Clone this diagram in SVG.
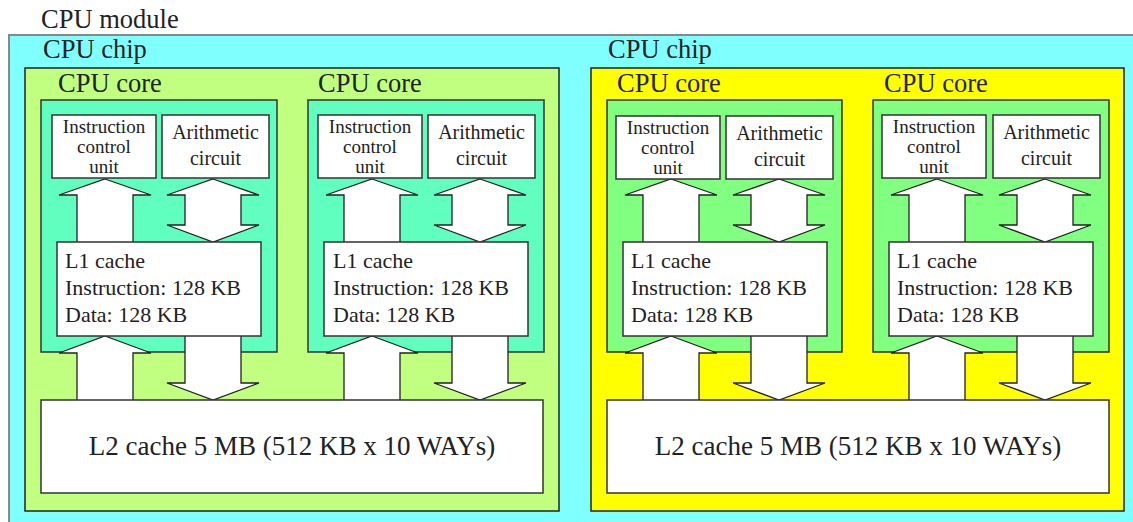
<svg xmlns="http://www.w3.org/2000/svg" width="1133" height="522" viewBox="0 0 1133 522" font-family="Liberation Serif, DejaVu Serif, serif">
<defs>
<style>
.t{font-family:"Liberation Serif","DejaVu Serif",serif;fill:#222}
.lbl{font-size:26.5px}
.icu{font-size:19px;text-anchor:middle}
.ar{font-size:20px;text-anchor:middle}
.l1t{font-size:22px}
.l2t{font-size:27px;text-anchor:middle}
.box{fill:#fff;stroke:#333;stroke-width:1.5}
.chip{stroke:#222;stroke-width:1.5}
.core{stroke:#333;stroke-width:1.5}
.arrow{fill:#fff;stroke:#222;stroke-width:1.3;stroke-linejoin:miter}
</style>
</defs>
<rect width="1133" height="522" fill="#fff"/>
<g id="module">
<rect x="9" y="35" width="1140" height="500" fill="#80FFFF" stroke="#888" stroke-width="2"/>
<text class="t lbl" x="41" y="28">CPU module</text>
</g>
<g id="chip1">
<rect class="chip" x="25" y="68" width="534" height="443" fill="#C0FF80"/>
<text class="t lbl" x="43" y="58">CPU chip</text>
</g>
<g id="chip2">
<rect class="chip" x="591" y="68" width="533" height="443" fill="#FFFF00"/>
<text class="t lbl" x="608" y="58">CPU chip</text>
</g>
<g id="core1"><rect class="core" x="41" y="100" width="236" height="252" fill="#60FFC0"/><text class="t lbl" x="58" y="92">CPU core</text></g>
<g id="core2"><rect class="core" x="308" y="100" width="236" height="252" fill="#60FFC0"/><text class="t lbl" x="318" y="92">CPU core</text></g>
<g id="core3"><rect class="core" x="607" y="100" width="235" height="252" fill="#80FF80"/><text class="t lbl" x="617" y="92">CPU core</text></g>
<g id="core4"><rect class="core" x="873" y="100" width="236" height="252" fill="#80FF80"/><text class="t lbl" x="884" y="92">CPU core</text></g>
<g id="connectors">
<polygon class="arrow" points="105,179 151,195 133,195 133,243 77,243 77,195 59,195"/>
<polygon class="arrow" points="213,179 259,195 241,195 241,225 259,225 213,242 167,225 185,225 185,195 167,195"/>
<polygon class="arrow" points="105,336 151,353 133,353 133,401 77,401 77,353 59,353"/>
<polygon class="arrow" points="241,335 241,383 259,383 213,400 167,383 185,383 185,335"/>
<polygon class="arrow" points="372,179 418,195 400,195 400,243 344,243 344,195 326,195"/>
<polygon class="arrow" points="480,179 526,195 508,195 508,225 526,225 480,242 434,225 452,225 452,195 434,195"/>
<polygon class="arrow" points="372,336 418,353 400,353 400,401 344,401 344,353 326,353"/>
<polygon class="arrow" points="508,335 508,383 526,383 480,400 434,383 452,383 452,335"/>
<polygon class="arrow" points="671,179 717,195 699,195 699,243 643,243 643,195 625,195"/>
<polygon class="arrow" points="779,179 825,195 807,195 807,225 825,225 779,242 733,225 751,225 751,195 733,195"/>
<polygon class="arrow" points="671,336 717,353 699,353 699,401 643,401 643,353 625,353"/>
<polygon class="arrow" points="807,335 807,383 825,383 779,400 733,383 751,383 751,335"/>
<polygon class="arrow" points="937,179 983,195 965,195 965,243 909,243 909,195 891,195"/>
<polygon class="arrow" points="1045,179 1091,195 1073,195 1073,225 1091,225 1045,242 999,225 1017,225 1017,195 999,195"/>
<polygon class="arrow" points="937,336 983,353 965,353 965,401 909,401 909,353 891,353"/>
<polygon class="arrow" points="1073,335 1073,383 1091,383 1045,400 999,383 1017,383 1017,335"/>
</g>
<g id="icu1"><rect class="box" x="52" y="115" width="104" height="63"/><text class="t icu" x="104" y="133">Instruction</text><text class="t icu" x="104" y="153">control</text><text class="t icu" x="104" y="173">unit</text></g>
<g id="arith1"><rect class="box" x="162" y="115" width="107" height="63"/><text class="t ar" x="215.5" y="139">Arithmetic</text><text class="t ar" x="215.5" y="165">circuit</text></g>
<g id="l1c1"><rect class="box" x="57" y="242" width="204" height="94"/><text class="t l1t" x="65" y="268">L1 cache</text><text class="t l1t" x="65" y="295">Instruction: 128 KB</text><text class="t l1t" x="65" y="322">Data: 128 KB</text></g>
<g id="icu2"><rect class="box" x="318" y="115" width="104" height="63"/><text class="t icu" x="370" y="133">Instruction</text><text class="t icu" x="370" y="153">control</text><text class="t icu" x="370" y="173">unit</text></g>
<g id="arith2"><rect class="box" x="428" y="115" width="107" height="63"/><text class="t ar" x="481.5" y="139">Arithmetic</text><text class="t ar" x="481.5" y="165">circuit</text></g>
<g id="l1c2"><rect class="box" x="324" y="242" width="204" height="94"/><text class="t l1t" x="333" y="268">L1 cache</text><text class="t l1t" x="333" y="295">Instruction: 128 KB</text><text class="t l1t" x="333" y="322">Data: 128 KB</text></g>
<g id="icu3"><rect class="box" x="616" y="116" width="104" height="63"/><text class="t icu" x="668" y="134">Instruction</text><text class="t icu" x="668" y="154">control</text><text class="t icu" x="668" y="174">unit</text></g>
<g id="arith3"><rect class="box" x="726" y="116" width="107" height="63"/><text class="t ar" x="779.5" y="140">Arithmetic</text><text class="t ar" x="779.5" y="166">circuit</text></g>
<g id="l1c3"><rect class="box" x="623" y="242" width="204" height="94"/><text class="t l1t" x="631" y="268">L1 cache</text><text class="t l1t" x="631" y="295">Instruction: 128 KB</text><text class="t l1t" x="631" y="322">Data: 128 KB</text></g>
<g id="icu4"><rect class="box" x="882" y="115" width="104" height="63"/><text class="t icu" x="934" y="133">Instruction</text><text class="t icu" x="934" y="153">control</text><text class="t icu" x="934" y="173">unit</text></g>
<g id="arith4"><rect class="box" x="993" y="115" width="107" height="63"/><text class="t ar" x="1046.5" y="139">Arithmetic</text><text class="t ar" x="1046.5" y="165">circuit</text></g>
<g id="l1c4"><rect class="box" x="889" y="242" width="204" height="94"/><text class="t l1t" x="897" y="268">L1 cache</text><text class="t l1t" x="897" y="295">Instruction: 128 KB</text><text class="t l1t" x="897" y="322">Data: 128 KB</text></g>
<g id="l2c1"><rect class="box" x="41" y="400" width="502" height="93"/><text class="t l2t" x="292" y="455">L2 cache 5 MB (512 KB x 10 WAYs)</text></g>
<g id="l2c2"><rect class="box" x="607" y="400" width="502" height="93"/><text class="t l2t" x="858" y="455">L2 cache 5 MB (512 KB x 10 WAYs)</text></g>
</svg>
